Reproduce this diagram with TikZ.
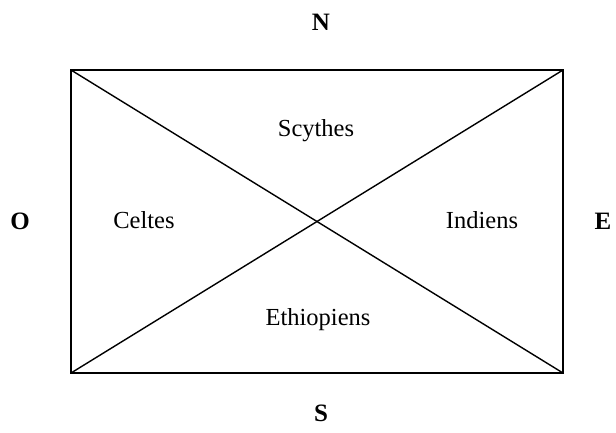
\documentclass[tikz,border=0pt]{standalone}
\usepackage{fontspec}
\setmainfont{Liberation Serif}
\usetikzlibrary{positioning}

\begin{document}
\begin{tikzpicture}[
  x=1pt, y=-1pt,
  font=\fontsize{24.5}{28}\selectfont,
  people/.style={inner sep=0pt, anchor=center},
  wind/.style={inner sep=0pt, anchor=center, font=\fontsize{25}{28}\selectfont\bfseries},
  edge/.style={line width=1.4pt, line join=miter}
]
\useasboundingbox (0,0) rectangle (616,432);

\coordinate (nw) at (71,70);
\coordinate (ne) at (563,70);
\coordinate (se) at (563,373);
\coordinate (sw) at (71,373);

\draw[edge] (nw) -- (ne) -- (se) -- (sw) -- cycle;
\draw[edge] (nw) -- (se);
\draw[edge] (sw) -- (ne);

\node[wind] (north) at (321,22) {N};
\node[wind] (south) at (321,413) {S};
\node[wind] (west) at (20,221) {O};
\node[wind] (east) at (603,221) {E};

\node[people] (scythes) at (316,131) {Scythes};
\node[people] (celtes) at (144,220) {Celtes};
\node[people] (indiens) at (482,220) {Indiens};
\node[people] (ethiop) at (318,320) {Ethiopiens};

\end{tikzpicture}
\end{document}
